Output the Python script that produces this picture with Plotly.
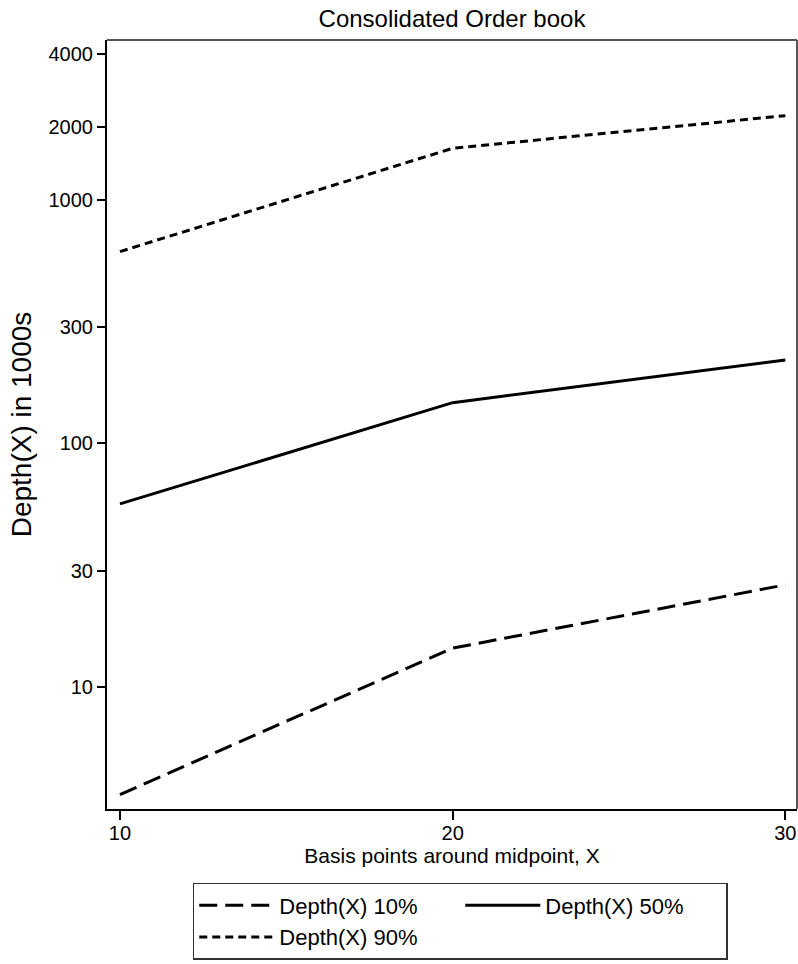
import plotly.graph_objects as go

# Data
basis_points = [10, 20, 30]
depth_10 = [3.6, 14.4, 26.2]
depth_50 = [56.4, 147, 220]
depth_90 = [614, 1633, 2223]
series_names = ["Depth(X) 10%", "Depth(X) 50%", "Depth(X) 90%"]
y_tick_vals = [10, 30, 100, 300, 1000, 2000, 4000]
x_tick_vals = [10, 20, 30]

FONT = "Liberation Sans, Arial, Helvetica, sans-serif"

fig = go.Figure()
fig.add_trace(go.Scatter(x=basis_points, y=depth_10, mode="lines", name=series_names[0],
                         line=dict(color="black", width=3, dash="18px,8px")))
fig.add_trace(go.Scatter(x=basis_points, y=depth_50, mode="lines", name=series_names[1],
                         line=dict(color="black", width=3)))
fig.add_trace(go.Scatter(x=basis_points, y=depth_90, mode="lines", name=series_names[2],
                         line=dict(color="black", width=3, dash="8px,5px")))

fig.update_layout(
    width=798, height=964,
    margin=dict(l=107, r=1, t=40, b=155, autoexpand=False),
    paper_bgcolor="white", plot_bgcolor="white",
    font=dict(family=FONT, color="black", size=20),
    title=dict(text="Consolidated Order book", x=0.5, xref="paper", xanchor="center",
               y=1 - 19 / 964, yref="container", yanchor="middle",
               font=dict(size=24, family=FONT, color="black")),
    showlegend=True,
    legend=dict(orientation="h", x=0.1243, y=-0.0962, xanchor="left", yanchor="top",
                xref="paper", yref="paper",
                entrywidth=176, entrywidthmode="pixels",
                itemwidth=75,
                bgcolor="white", bordercolor="#333333", borderwidth=1.5,
                font=dict(size=22, family=FONT, color="black"),
                traceorder="normal"),
)

fig.update_xaxes(
    range=[9.61, 30.35], tickvals=x_tick_vals, ticktext=[str(v) for v in x_tick_vals],
    ticks="outside", ticklen=9, tickwidth=1.5, tickcolor="black",
    showline=True, linecolor="black", linewidth=2,
    showgrid=False, zeroline=False,
    tickfont=dict(size=20, family=FONT),
    ticklabelstandoff=-4,
    title=dict(text="Basis points around midpoint, X", font=dict(size=21, family=FONT), standoff=0),
)
fig.update_yaxes(
    type="log", range=[0.497, 3.658], tickvals=y_tick_vals,
    ticktext=[str(v) for v in y_tick_vals],
    ticks="outside", ticklen=8, tickwidth=1.5, tickcolor="black",
    showline=True, linecolor="black", linewidth=2,
    showgrid=False, zeroline=False,
    tickfont=dict(size=20, family=FONT),
    ticklabelstandoff=0,
    title=dict(text="Depth(X) in 1000s", font=dict(size=28, family=FONT), standoff=9),
)

# top/right frame (grey)
fig.add_shape(type="line", xref="x domain", yref="y domain", x0=0, x1=1, y0=1, y1=1,
              line=dict(color="#555555", width=2))
fig.add_shape(type="line", xref="x domain", yref="y domain", x0=1, x1=1, y0=0, y1=1,
              line=dict(color="#555555", width=2))

fig.write_html("out.html")
